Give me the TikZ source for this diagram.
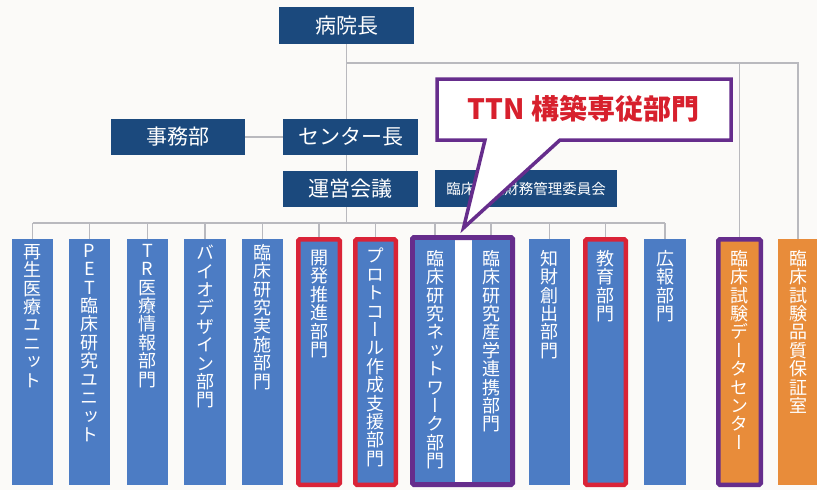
\documentclass[tikz,border=0pt]{standalone}
\usepackage{fontspec}
\newfontfamily\jp{Noto Sans CJK JP}
\newfontfamily\jpv{Noto Sans CJK JP}[RawFeature=+vert]
\usetikzlibrary{calc}
\pgfdeclarelayer{background}
\pgfsetlayers{background,main}
\ExplSyntaxOn
\NewDocumentCommand\tate{m}{\vbox{\tl_map_inline:nn{#1}{\hbox_to_wd:nn{1em}{\hss ##1\hss}}}}
\ExplSyntaxOff
\definecolor{navy}{RGB}{27,73,125}
\definecolor{colblue}{RGB}{76,124,196}
\definecolor{bred}{RGB}{218,35,55}
\definecolor{bpurp}{RGB}{102,45,140}
\definecolor{orng}{RGB}{232,140,58}
\definecolor{lgray}{RGB}{185,185,190}
\definecolor{bgc}{RGB}{251,250,248}
\definecolor{tred}{RGB}{215,32,45}
\begin{document}
\begin{tikzpicture}[x=1pt,y=-1pt,
  topbox/.style={fill=navy,text=white,inner sep=0pt,font=\jp\fontsize{21}{21}\selectfont},
  colbox/.style={fill=colblue,inner sep=0pt,minimum height=246pt},
  redbox/.style={fill=colblue,draw=bred,line width=4.5pt,rounded corners=1.5pt,inner sep=0pt,minimum height=245.5pt},
  orgbox/.style={fill=orng,inner sep=0pt,minimum height=246pt},
  coltext/.style={anchor=north,inner sep=0pt,text=white,font=\jpv\fontsize{18}{18.4}\selectfont},
  conn/.style={draw=lgray,line width=1.8pt}]
\useasboundingbox (0,0) rectangle (817,490);

% top boxes
\node[topbox,minimum width=135pt,minimum height=37pt] (hosp) at (346.5,25.5) {病院長};
\node[topbox,minimum width=134pt,minimum height=36pt] (jimu) at (178,137) {事務部};
\node[topbox,minimum width=135pt,minimum height=36pt] (ctr) at (350.5,137) {センター長};
\node[topbox,minimum width=135pt,minimum height=36pt] (mtg) at (350.5,189) {運営会議};
\node[topbox,minimum width=182pt,minimum height=37pt,font=\jp\fontsize{14.5}{14.5}\selectfont] (fin) at (526,188.5) {臨床研究財務管理委員会};

% columns
\node[colbox,minimum width=41pt] (c1) at (32.5,362) {};
\node[colbox,minimum width=41pt] (c2) at (89.5,362) {};
\node[colbox,minimum width=41pt] (c3) at (147.5,362) {};
\node[colbox,minimum width=42pt] (c4) at (205,362) {};
\node[colbox,minimum width=41pt] (c5) at (262.5,362) {};
\node[redbox,minimum width=41.5pt] (c6) at (319,362) {};
\node[redbox,minimum width=40.5pt] (c7) at (375.5,362) {};
\node[draw=bpurp,line width=5pt,fill=white,rounded corners=1.5pt,inner sep=0pt,minimum width=100pt,minimum height=247pt] (grp) at (462.5,361) {};
\node[fill=colblue,inner sep=0pt,minimum width=40pt,minimum height=242pt] (n1) at (435,361) {};
\node[fill=colblue,inner sep=0pt,minimum width=38pt,minimum height=242pt] (n2) at (491,361) {};
\node[colbox,minimum width=41pt] (c9) at (549.5,362) {};
\node[redbox,minimum width=40.5pt] (c10) at (605.5,362) {};
\node[colbox,minimum width=42pt] (c11) at (665,362) {};
\node[redbox,fill=orng,draw=bpurp,minimum width=42.5pt] (c12) at (739.5,362) {};
\node[orgbox,minimum width=40pt] (c13) at (798,362) {};

% column texts
\node[coltext] (t1) at (c1.north |- 0,244) {\tate{再生医療ユニット}};
\node[coltext] (t2) at (c2.north |- 0,244) {\tate{PET臨床研究ユニット}};
\node[coltext] (t3) at (c3.north |- 0,244) {\tate{TR医療情報部門}};
\node[coltext] (t4) at (c4.north |- 0,245) {\tate{バイオデザイン部門}};
\node[coltext] (t5) at (c5.north |- 0,244) {\tate{臨床研究実施部門}};
\node[coltext] (t6) at (c6.north |- 0,250) {\tate{開発推進部門}};
\node[coltext] (t7) at (c7.north |- 0,248) {\tate{プロトコール作成支援部門}};
\node[coltext] (t8) at (n1.north |- 0,250) {\tate{臨床研究ネットワーク部門}};
\node[coltext] (t9) at (n2.north |- 0,250) {\tate{臨床研究産学連携部門}};
\node[coltext] (t10) at (c9.north |- 0,250) {\tate{知財創出部門}};
\node[coltext] (t11) at (c10.north |- 0,250) {\tate{教育部門}};
\node[coltext] (t12) at (c11.north |- 0,250) {\tate{広報部門}};
\node[coltext] (t13) at (c12.north |- 0,250) {\tate{臨床試験データセンター}};
\node[coltext] (t14) at (c13.north |- 0,250) {\tate{臨床試験品質保証室}};

% callout
\draw[bpurp,line width=3.5pt,fill=white] (437,79) -- (731,79) -- (731,140) -- (560,140) -- (463.5,228) -- (485,140) -- (437,140) -- cycle;
\node[inner sep=0pt,text=tred,font=\jp\bfseries\fontsize{28}{28}\selectfont] (ttn) at (583.5,108.5) {TTN 構築専従部門};

% connectors
\coordinate (jn) at (346.5,63);
\coordinate (busy) at (0,223);
\begin{pgfonlayer}{background}
\fill[bgc] (0,0) rectangle (817,490);
\draw[conn] (hosp.south) -- (hosp.south |- busy);
\draw[conn] (jimu.east) -- (ctr.west);
\draw[conn] (jn) -- (c13.north |- jn) -- (c13.north);
\draw[conn] (c12.north |- jn) -- (c12.north);
\draw[conn] (c1.north |- busy) -- (c11.north |- busy);
\foreach \c in {c1,c2,c3,c4,c5,c6,c7,n1,n2,c9,c10,c11}
  \draw[conn] (\c.north |- busy) -- (\c.north);
\end{pgfonlayer}
\end{tikzpicture}
\end{document}
